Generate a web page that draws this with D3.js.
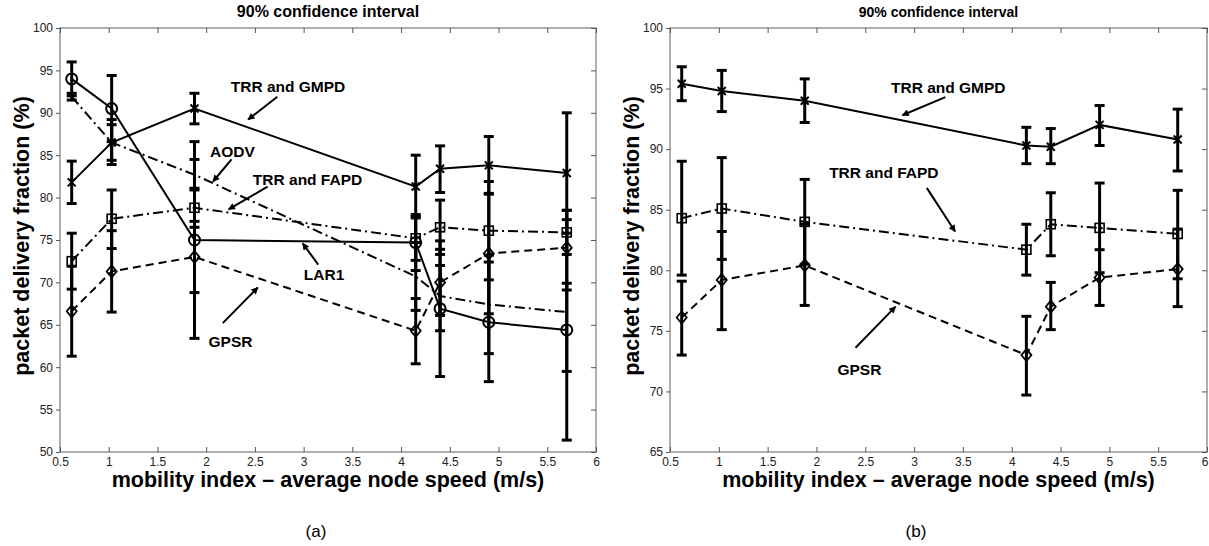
<!DOCTYPE html>
<html>
<head>
<meta charset="utf-8">
<script src="https://cdn.jsdelivr.net/npm/d3@7"></script>
<style>
  body { margin: 0; background: #fff; }
  svg { font-family: "Liberation Sans", Arial, sans-serif; }
  .tick text { fill: #222; font-size: 12px; }
</style>
</head>
<body>
<div id="chart"></div>
<script>
// mobility index (average node speed, m/s)
var speeds = [0.62, 1.03, 1.88, 4.15, 4.4, 4.9, 5.7];

var xTicks = [0.5, 1, 1.5, 2, 2.5, 3, 3.5, 4, 4.5, 5, 5.5, 6];
var yTicksA = [50, 55, 60, 65, 70, 75, 80, 85, 90, 95, 100];
var yTicksB = [65, 70, 75, 80, 85, 90, 95, 100];

// panel (a)
var gmpdA    = [81.8, 86.5, 90.5, 81.3, 83.4, 83.8, 82.9];
var gmpdAHi  = [84.3, 89.2, 92.3, 85.0, 86.1, 87.2, 90.0];
var gmpdALo  = [79.3, 83.9, 88.7, 77.6, 80.6, 80.4, 75.8];
var lar1A    = [94.0, 90.5, 75.0, 74.7, 66.9, 65.3, 64.4];
var lar1AHi  = [96.0, 94.4, 86.6, 78.0, 74.9, 72.4, 77.4];
var lar1ALo  = [92.0, 86.6, 63.4, 71.4, 58.9, 58.3, 51.4];
var aodvA    = [91.9, 86.5, 82.7, 70.7, 68.4, 67.4, 66.5];
var aodvAHi  = [92.3, 88.6, 84.5, 74.7, 72.0, 73.2, 69.9];
var aodvALo  = [91.5, 84.4, 80.9, 66.7, 64.3, 61.6, 59.5];
var fapdA    = [72.5, 77.5, 78.8, 75.2, 76.5, 76.1, 75.9];
var fapdAHi  = [75.8, 80.9, 81.1, 77.8, 79.7, 81.9, 78.5];
var fapdALo  = [69.2, 74.0, 76.5, 72.6, 73.3, 70.3, 73.3];
var gpsrA    = [66.6, 71.3, 73.0, 64.3, 70.0, 73.4, 74.1];
var gpsrAHi  = [71.9, 76.1, 77.2, 68.1, 73.9, 80.5, 78.5];
var gpsrALo  = [61.3, 66.5, 68.8, 60.4, 66.1, 66.3, 69.1];

// panel (b)
var gmpdB    = [95.4, 94.8, 94.0, 90.3, 90.2, 92.0, 90.8];
var gmpdBHi  = [96.8, 96.5, 95.8, 91.8, 91.7, 93.6, 93.3];
var gmpdBLo  = [94.0, 93.1, 92.2, 88.8, 88.8, 90.3, 88.2];
var fapdB    = [84.3, 85.1, 84.0, 81.7, 83.8, 83.5, 83.0];
var fapdBHi  = [89.0, 89.3, 87.5, 83.8, 86.4, 87.2, 86.6];
var fapdBLo  = [79.6, 80.9, 80.5, 79.6, 81.2, 79.8, 79.3];
var gpsrB    = [76.1, 79.2, 80.4, 73.0, 77.0, 79.4, 80.1];
var gpsrBHi  = [79.1, 83.2, 83.8, 76.2, 79.0, 81.7, 83.4];
var gpsrBLo  = [73.0, 75.1, 77.1, 69.7, 75.1, 77.1, 77.0];

// annotations: label, text position, arrow start, arrow tip (data units)
var notesA = [
  ["TRR and GMPD", 2.84, 93.1, 2.73, 91.9, 2.43, 89.2],
  ["AODV",         2.27, 85.4, 2.26, 84.5, 2.07, 81.9],
  ["TRR and FAPD", 3.04, 82.1, 2.63, 81.3, 2.23, 78.6],
  ["LAR1",         3.21, 70.9, 3.15, 72.1, 2.99, 74.6],
  ["GPSR",         2.25, 63.0, 2.17, 65.2, 2.53, 69.4]
];
var notesB = [
  ["TRR and GMPD", 3.35, 95.1, 3.32, 94.3, 2.88, 92.8],
  ["TRR and FAPD", 2.69, 88.1, 3.13, 86.8, 3.42, 83.2],
  ["GPSR",         2.44, 71.8, 2.40, 73.6, 2.81, 77.0]
];

var svgWidth = 1209;
var svgHeight = 546;

var svg = d3.select("#chart")
    .append("svg")
    .attr("width", svgWidth)
    .attr("height", svgHeight);

// arrow head
svg.append("defs").append("marker")
    .attr("id", "arrowHead")
    .attr("viewBox", "0 0 10 10")
    .attr("refX", 9).attr("refY", 5)
    .attr("markerWidth", 9).attr("markerHeight", 7)
    .attr("markerUnits", "userSpaceOnUse")
    .attr("orient", "auto")
    .append("path")
    .attr("d", "M0,0 L10,5 L0,10 z")
    .attr("fill", "#000");

function series(vals, hi, lo) {
    return speeds.map(function (s, i) {
        return { x: s, y: vals[i], hi: hi[i], lo: lo[i] };
    });
}

function drawPanel(cfg) {
    var x = d3.scaleLinear().domain([0.5, 6]).range([cfg.left, cfg.right]);
    var y = d3.scaleLinear().domain(cfg.yDomain).range([452, 28]);
    var g = svg.append("g");

    // frame
    g.append("rect")
        .attr("x", cfg.left).attr("y", 28)
        .attr("width", cfg.right - cfg.left).attr("height", 424)
        .attr("fill", "none").attr("stroke", "#7a7a7a").attr("stroke-width", 1.2);

    var bottomAxis = g.append("g")
        .attr("transform", "translate(0,452)")
        .call(d3.axisBottom(x).tickValues(xTicks).tickSize(-5).tickPadding(7)
            .tickFormat(d3.format("")));
    var topAxis = g.append("g")
        .attr("transform", "translate(0,28)")
        .call(d3.axisTop(x).tickValues(xTicks).tickSize(-5).tickFormat(""));
    var leftAxis = g.append("g")
        .attr("transform", "translate(" + cfg.left + ",0)")
        .call(d3.axisLeft(y).tickValues(cfg.yTicks).tickSize(4).tickPadding(3));
    var rightAxis = g.append("g")
        .attr("transform", "translate(" + cfg.right + ",0)")
        .call(d3.axisRight(y).tickValues(cfg.yTicks).tickSize(-5).tickFormat(""));
    [bottomAxis, topAxis, leftAxis, rightAxis].forEach(function (a) {
        a.select(".domain").remove();
        a.selectAll("line").attr("stroke", "#555");
    });
    bottomAxis.selectAll(".tick text").attr("dy", "0.6em");
    // keep the last label inside the page when the frame touches the edge
    if (cfg.right > svgWidth - 10) {
        bottomAxis.selectAll(".tick text")
            .filter(function (d) { return d === 6; })
            .attr("text-anchor", "end")
            .attr("dx", 1);
    }

    var line = d3.line().x(function (d) { return x(d.x); }).y(function (d) { return y(d.y); });

    cfg.series.forEach(function (s) {
        // error bars
        var eb = g.append("g").selectAll("g")
            .data(s.data)
            .enter()
            .append("g");
        eb.append("line")
            .attr("x1", function (d) { return x(d.x); })
            .attr("x2", function (d) { return x(d.x); })
            .attr("y1", function (d) { return y(d.hi); })
            .attr("y2", function (d) { return y(d.lo); })
            .attr("stroke", "#000").attr("stroke-width", 3);
        ["hi", "lo"].forEach(function (k) {
            eb.append("line")
                .attr("x1", function (d) { return x(d.x) - 5; })
                .attr("x2", function (d) { return x(d.x) + 5; })
                .attr("y1", function (d) { return y(d[k]); })
                .attr("y2", function (d) { return y(d[k]); })
                .attr("stroke", "#000").attr("stroke-width", 3);
        });
    });

    cfg.series.forEach(function (s) {
        g.append("path")
            .datum(s.data)
            .attr("d", line)
            .attr("fill", "none")
            .attr("stroke", "#000")
            .attr("stroke-width", 2)
            .attr("stroke-dasharray", s.dash);

        var m = g.append("g").selectAll("g")
            .data(s.data)
            .enter()
            .append("g")
            .attr("transform", function (d) { return "translate(" + x(d.x) + "," + y(d.y) + ")"; });
        if (s.marker === "circle") {
            m.append("circle").attr("r", 5.5)
                .attr("fill", "none").attr("stroke", "#000").attr("stroke-width", 2);
        } else if (s.marker === "square") {
            m.append("rect").attr("x", -4.5).attr("y", -4.5).attr("width", 9).attr("height", 9)
                .attr("fill", "none").attr("stroke", "#000").attr("stroke-width", 1.6);
        } else if (s.marker === "diamond") {
            m.append("path").attr("d", "M0,-6 L5,0 L0,6 L-5,0 Z")
                .attr("fill", "none").attr("stroke", "#000").attr("stroke-width", 1.8);
        } else if (s.marker === "star") {
            m.append("path").attr("d", "M-4,-4 L4,4 M-4,4 L4,-4 M0,-4 L0,4")
                .attr("stroke", "#000").attr("stroke-width", 2);
        }
    });

    // annotations
    cfg.notes.forEach(function (n) {
        g.append("text")
            .attr("x", x(n[1])).attr("y", y(n[2]))
            .attr("text-anchor", "middle")
            .attr("dy", "0.36em")
            .style("font-size", cfg.noteSize + "px")
            .style("font-weight", "bold")
            .text(n[0]);
        g.append("line")
            .attr("x1", x(n[3])).attr("y1", y(n[4]))
            .attr("x2", x(n[5])).attr("y2", y(n[6]))
            .attr("stroke", "#000").attr("stroke-width", 2)
            .attr("marker-end", "url(#arrowHead)");
    });

    // titles and labels
    var mid = (cfg.left + cfg.right) / 2;
    g.append("text")
        .attr("x", mid).attr("y", 17)
        .attr("text-anchor", "middle")
        .style("font-size", cfg.titleSize + "px")
        .style("font-weight", "bold")
        .text("90% confidence interval");
    g.append("text")
        .attr("x", mid).attr("y", 487)
        .attr("text-anchor", "middle")
        .style("font-size", "21.5px")
        .style("font-weight", "bold")
        .text("mobility index \u2013 average node speed (m/s)");
    g.append("text")
        .attr("transform", "translate(" + (cfg.left - 31) + ",236) rotate(-90)")
        .attr("text-anchor", "middle")
        .style("font-size", "21.5px")
        .style("font-weight", "bold")
        .text("packet delivery fraction (%)");
    g.append("text")
        .attr("x", cfg.capX).attr("y", 537)
        .attr("text-anchor", "middle")
        .style("font-size", "17px")
        .text(cfg.caption);
}

drawPanel({
    left: 60, right: 596, yDomain: [50, 100], yTicks: yTicksA,
    titleSize: 16, noteSize: 15.5, capX: 316, caption: "(a)",
    notes: notesA,
    series: [
        { data: series(aodvA, aodvAHi, aodvALo), dash: "10,4,2,4", marker: "none" },
        { data: series(fapdA, fapdAHi, fapdALo), dash: "10,4,2,4", marker: "square" },
        { data: series(gpsrA, gpsrAHi, gpsrALo), dash: "8,5", marker: "diamond" },
        { data: series(lar1A, lar1AHi, lar1ALo), dash: null, marker: "circle" },
        { data: series(gmpdA, gmpdAHi, gmpdALo), dash: null, marker: "star" }
    ]
});

drawPanel({
    left: 670, right: 1207, yDomain: [65, 100], yTicks: yTicksB,
    titleSize: 14, noteSize: 15.5, capX: 916, caption: "(b)",
    notes: notesB,
    series: [
        { data: series(fapdB, fapdBHi, fapdBLo), dash: "10,4,2,4", marker: "square" },
        { data: series(gpsrB, gpsrBHi, gpsrBLo), dash: "8,5", marker: "diamond" },
        { data: series(gmpdB, gmpdBHi, gmpdBLo), dash: null, marker: "star" }
    ]
});
</script>
</body>
</html>
